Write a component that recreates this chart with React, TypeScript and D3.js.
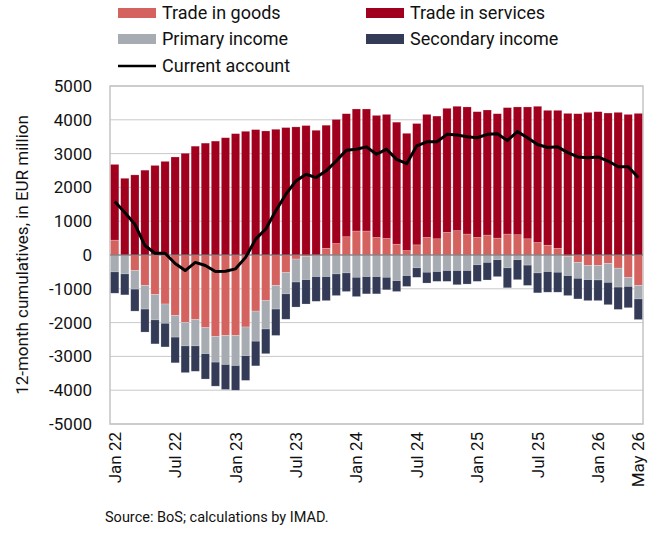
import * as d3 from "d3";

const months = [
  "Jan 22","Feb 22","Mar 22","Apr 22","May 22","Jun 22","Jul 22","Aug 22","Sep 22","Oct 22","Nov 22","Dec 22",
  "Jan 23","Feb 23","Mar 23","Apr 23","May 23","Jun 23","Jul 23","Aug 23","Sep 23","Oct 23","Nov 23","Dec 23",
  "Jan 24","Feb 24","Mar 24","Apr 24","May 24","Jun 24","Jul 24","Aug 24","Sep 24","Oct 24","Nov 24","Dec 24",
  "Jan 25","Feb 25","Mar 25","Apr 25","May 25","Jun 25","Jul 25","Aug 25","Sep 25","Oct 25","Nov 25","Dec 25",
  "Jan 26","Feb 26","Mar 26","Apr 26","May 26",
];

const goods = [
  440, 0, -460, -900, -1170, -1450, -1790, -1990, -1910, -2150, -2410, -2380,
  -2380, -2130, -1660, -1350, -900, -520, -120, -50, 0, 200, 340, 540,
  710, 710, 520, 490, 320, 130, 300, 520, 480, 670, 720, 620,
  520, 590, 500, 620, 600, 480, 370, 290, 200, -50, -220, -310,
  -310, -250, -390, -660, -900,
];
const services = [
  2240, 2270, 2370, 2510, 2650, 2770, 2900, 3010, 3220, 3310, 3370, 3470,
  3590, 3660, 3710, 3670, 3720, 3770, 3790, 3830, 3690, 3640, 3670, 3640,
  3610, 3610, 3610, 3670, 3610, 3470, 3590, 3640, 3630, 3670, 3680, 3760,
  3720, 3700, 3680, 3740, 3780, 3900, 4030, 3990, 4080, 4190, 4180, 4220,
  4240, 4200, 4220, 4160, 4190,
];
const primary = [
  -500, -560, -550, -700, -750, -570, -640, -700, -780, -770, -760, -860,
  -890, -850, -890, -840, -700, -630, -680, -680, -640, -640, -560, -530,
  -660, -640, -640, -660, -760, -610, -380, -510, -490, -460, -460, -460,
  -290, -220, -140, -380, -140, -300, -530, -490, -510, -560, -470, -420,
  -430, -560, -560, -270, -400,
];
const secondary = [
  -630, -620, -650, -680, -710, -700, -760, -790, -750, -750, -710, -740,
  -730, -730, -730, -730, -780, -750, -740, -720, -730, -710, -640, -550,
  -570, -510, -510, -370, -320, -320, -280, -320, -290, -320, -420, -400,
  -490, -520, -500, -590, -590, -600, -590, -610, -590, -590, -610, -620,
  -610, -660, -660, -630, -610,
];
const currentAccount = [
  1580, 1260, 910, 280, 50, 50, -250, -460, -220, -310, -490, -480,
  -410, -70, 470, 770, 1310, 1800, 2190, 2390, 2290, 2490, 2780, 3100,
  3130, 3200, 2980, 3130, 2830, 2700, 3230, 3350, 3350, 3570, 3550, 3500,
  3470, 3570, 3590, 3390, 3650, 3470, 3270, 3180, 3200, 3030, 2900, 2880,
  2900, 2780, 2610, 2610, 2290,
];

const yTicks = [5000, 4000, 3000, 2000, 1000, 0, -1000, -2000, -3000, -4000, -5000];
const xTickLabels = ["Jan 22","Jul 22","Jan 23","Jul 23","Jan 24","Jul 24","Jan 25","Jul 25","Jan 26","May 26"];

const seriesNames = ["Trade in goods", "Trade in services", "Primary income", "Secondary income"];
const seriesData = [goods, services, primary, secondary];
const colors = ["#d4625f", "#a0001d", "#a7acb2", "#333b57"];

const W = 655, H = 533;
const m = { left: 110, right: 643, top: 86, bottom: 424 };
const font = "Roboto, 'Noto Sans', sans-serif";

export default function App() {
  const x = d3.scaleBand<string>().domain(months).range([m.left, m.right]).paddingInner(0.18).paddingOuter(0.06);
  const y = d3.scaleLinear().domain([-5000, 5000]).range([m.bottom, m.top]);

  const bars: JSX.Element[] = [];
  months.forEach((mo, i) => {
    let pos = 0, neg = 0;
    seriesData.forEach((s, k) => {
      const v = s[i];
      if (v === 0) return;
      let y0: number, y1: number;
      if (v > 0) { y0 = pos; y1 = pos + v; pos = y1; }
      else { y0 = neg; y1 = neg + v; neg = y1; }
      bars.push(
        <rect key={`${k}-${i}`} x={x(mo)} width={x.bandwidth()}
          y={y(Math.max(y0, y1))} height={Math.abs(y(y0) - y(y1))}
          fill={colors[k]} stroke="#ffffff" strokeOpacity={0.35} strokeWidth={0.6} />
      );
    });
  });

  const linePath = d3.line<number>()
    .x((_, i) => (x(months[i]) ?? 0) + x.bandwidth() / 2)
    .y((d) => y(d))(currentAccount);

  const legend = [
    { i: 0, lx: 118, ly: 13 }, { i: 1, lx: 366, ly: 13 },
    { i: 2, lx: 118, ly: 39 }, { i: 3, lx: 366, ly: 39 },
  ];

  return (
    <div style={{ position: "absolute", left: 0, top: 0 }}>
      <svg width={W} height={H} style={{ display: "block", fontFamily: font }}>
        <rect width={W} height={H} fill="#fff" />
        {yTicks.map((t) => (
          <g key={t}>
            <line x1={m.left} x2={m.right} y1={y(t)} y2={y(t)} stroke="#c9c9c9" strokeWidth={1} />
            <text x={92} y={y(t)} dy="0.35em" textAnchor="end" fontSize={17} fill="#111">{t}</text>
          </g>
        ))}
        <rect x={m.left} y={m.top} width={m.right - m.left} height={m.bottom - m.top} fill="none" stroke="#c4c4c4" strokeWidth={1.5} />
        {bars}
        <line x1={m.left} x2={m.right} y1={y(0)} y2={y(0)} stroke="#6a6a6a" strokeWidth={1.2} />
        <path d={linePath ?? ""} fill="none" stroke="#000" strokeWidth={3} strokeLinejoin="round" />
        {xTickLabels.map((l) => {
          const cx = (x(l) ?? 0) + x.bandwidth() / 2;
          return (
            <text key={l} transform={`translate(${cx},432) rotate(-90)`} dy="0.35em" textAnchor="end" fontSize={17} fill="#111">{l}</text>
          );
        })}
        <text transform={`translate(22,${(m.top + m.bottom) / 2}) rotate(-90)`} textAnchor="middle" dy="0.35em" fontSize={17} fill="#111">
          12-month cumulatives, in EUR million
        </text>
        {legend.map(({ i, lx, ly }) => (
          <g key={i}>
            <rect x={lx} y={ly - 5} width={38} height={10} fill={colors[i]} />
            <text x={lx + 44} y={ly} dy="0.35em" fontSize={18} fill="#111">{seriesNames[i]}</text>
          </g>
        ))}
        <line x1={118} x2={156} y1={66} y2={66} stroke="#000" strokeWidth={2.5} />
        <text x={162} y={66} dy="0.35em" fontSize={18} fill="#111">Current account</text>
        <text x={105} y={517} dy="0.35em" fontSize={14.5} fill="#111">Source: BoS; calculations by IMAD.</text>
      </svg>
    </div>
  );
}
